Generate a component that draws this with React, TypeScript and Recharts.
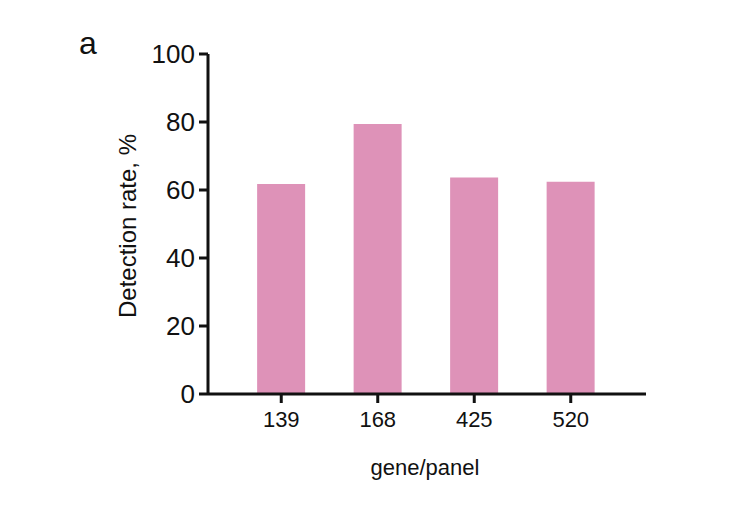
import { Bar, BarChart, XAxis, YAxis, Label } from "recharts";

const panels = ["139", "168", "425", "520"];
const detectionRate = [61.8, 79.4, 63.7, 62.4];
const yTicks = [0, 20, 40, 60, 80, 100];

const data = panels.map((p, i) => ({ panel: p, rate: detectionRate[i] }));

const FONT = "Arial, 'Liberation Sans', sans-serif";
const INK = "#111";

function YTitle(props: any) {
  const vb = props.viewBox || {};
  const cx = vb.x + 27;
  const cy = vb.y + vb.height / 2 + 2;
  return (
    <text
      x={cx}
      y={cy}
      transform={`rotate(-90, ${cx}, ${cy})`}
      textAnchor="middle"
      dominantBaseline="central"
      fontFamily={FONT}
      fontSize={24}
      fill={INK}
    >
      Detection rate, %
    </text>
  );
}

export default function App() {
  return (
    <div style={{ position: "absolute", left: 0, top: 0, width: 753, height: 507, background: "#fff" }}>
      <div style={{ position: "absolute", left: 79, top: 27, fontFamily: FONT, fontSize: 32, lineHeight: 1, color: INK }}>a</div>
      <BarChart
        width={753}
        height={507}
        data={data}
        margin={{ top: 54, right: 107, bottom: 0, left: 100 }}
        barCategoryGap="25%"
      >
        <XAxis
          dataKey="panel"
          height={113}
          padding={{ left: 25, right: 27 }}
          axisLine={{ stroke: INK, strokeWidth: 3 }}
          tickLine={{ stroke: INK, strokeWidth: 3 }}
          tickSize={9}
          tickMargin={8}
          tick={{ fontFamily: FONT, fontSize: 22, fill: INK }}
        >
          <Label
            value="gene/panel"
            position="insideTop"
            offset={65}
            dx={-2}
            style={{ fontFamily: FONT, fontSize: 22, fill: INK }}
          />
        </XAxis>
        <YAxis
          width={108}
          domain={[0, 100]}
          ticks={yTicks}
          interval={0}
          axisLine={{ stroke: INK, strokeWidth: 3 }}
          tickLine={{ stroke: INK, strokeWidth: 3 }}
          tickSize={9}
          tickMargin={4}
          tick={{ fontFamily: FONT, fontSize: 26, fill: INK }}
        >
          <Label content={<YTitle />} />
        </YAxis>
        <Bar dataKey="rate" fill="#de92b8" isAnimationActive={false} />
      </BarChart>
    </div>
  );
}
